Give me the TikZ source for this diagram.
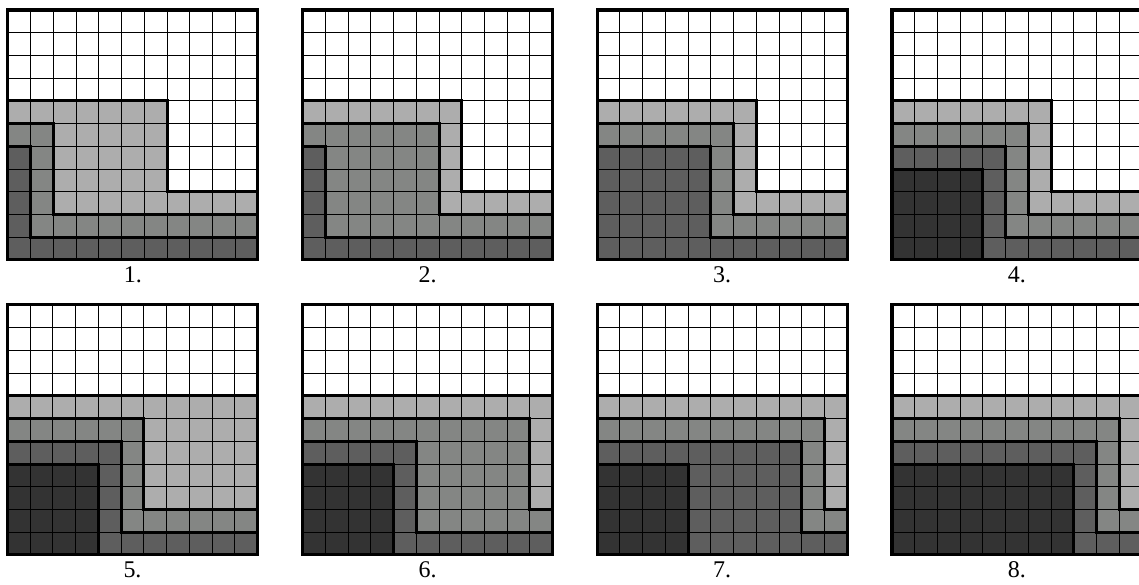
\documentclass[tikz,border=0pt]{standalone}
\usepackage{fontspec}
\setmainfont{Liberation Serif}
\usepackage{tikz}
\usetikzlibrary{positioning}
\definecolor{pale}{RGB}{173,173,173}
\definecolor{mid}{RGB}{132,134,132}
\definecolor{deep}{RGB}{94,94,94}
\definecolor{coal}{RGB}{51,51,51}

\begin{document}
\begin{tikzpicture}[x=0.5cm,y=0.5cm]
    \useasboundingbox (0,0) rectangle (50.12,25.74);
    \foreach \n/\px/\py/\lw/\mw/\dw/\kw in {
      1/0.35/14.30/7/2/1/0,
      2/13.32/14.30/7/6/1/0,
      3/26.28/14.30/7/6/5/0,
      4/39.25/14.30/7/6/5/4,
      5/0.33/1.32/11/6/5/4,
      6/13.32/1.32/11/10/5/4,
      7/26.28/1.32/11/10/9/4,
      8/39.25/1.32/11/10/9/8}
    {
      \begin{scope}[shift={(\px,\py)}]
        \fill[pale] (0,0) -| (11,3) -| (\lw,7) -| (0,0) -- cycle;
        \fill[mid] (0,0) -| (11,2) -| (\mw,6) -| (0,0) -- cycle;
        \fill[deep] (0,0) -| (11,1) -| (\dw,5) -| (0,0) -- cycle;
        \ifnum\kw>0 \fill[coal] (0,0) rectangle (\kw,4); \fi
        \draw[black,line width=0.6pt,step=0.5cm] (0,0) grid (11,11);
        \draw[line width=1.9pt] (0,7) -| (\lw,3) -- (11,3);
        \draw[line width=1.9pt] (0,6) -| (\mw,2) -- (11,2);
        \draw[line width=1.9pt] (0,5) -| (\dw,1) -- (11,1);
        \ifnum\kw>0 \draw[line width=1.9pt] (0,4) -| (\kw,0); \fi
        \draw[line width=1.9pt] (0,0) rectangle (11,11);
      \end{scope}
      \node[font=\fontsize{15}{17}\selectfont,inner sep=0pt] (lab\n) at (\px+5.5,\py-0.65) {\n.};
    }
\end{tikzpicture}
\end{document}
